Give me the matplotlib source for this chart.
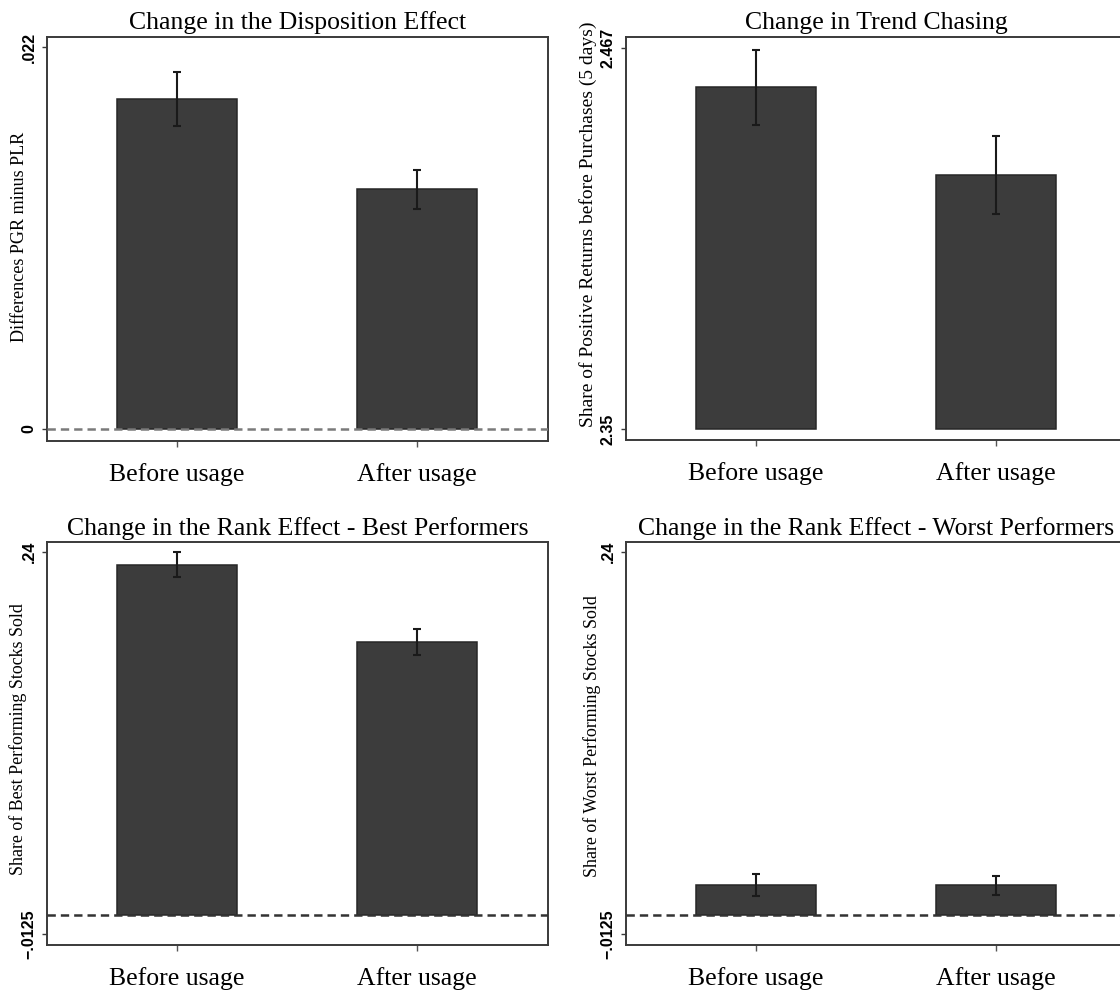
import matplotlib
matplotlib.use("Agg")
import matplotlib.pyplot as plt
import numpy as np

categories = ["Before usage", "After usage"]

disposition_mean = [0.0190, 0.0138]
disposition_err = [0.00155, 0.0011]

trend_mean = [2.455, 2.428]
trend_err = [0.0115, 0.012]

best_mean = [0.2317, 0.1805]
best_err = [0.0083, 0.0083]

worst_mean = [0.0198, 0.0198]
worst_err = [0.0072, 0.0063]

W, H = 1120, 990
BAR_FILL = "#3c3c3c"
BAR_EDGE = "#262626"
SPINE = "#3a3a3a"

plt.rcParams["font.family"] = ["Liberation Serif", "DejaVu Serif"]
plt.rcParams["lines.scale_dashes"] = False


def panel(fig, box, title, ylabel, mean, err, base, ylim, ticks, ticklabels,
          zero_line=None, label_pos=(-0.055, 0.5), ylabel_size=13, title_pad=6):
    left, top, right, bottom = box
    ax = fig.add_axes([left / W, 1 - bottom / H, (right - left) / W, (bottom - top) / H])
    x = np.arange(1, len(categories) + 1)
    heights = np.asarray(mean) - base
    ax.bar(x, heights, bottom=base, width=0.5, color=BAR_FILL, edgecolor=BAR_EDGE,
           linewidth=1.1, zorder=2)
    ax.errorbar(x, mean, yerr=err, fmt="none", ecolor="#1a1a1a", elinewidth=1.5,
                capsize=3, capthick=1.5, zorder=3)
    if zero_line is not None:
        ax.axhline(0, color=zero_line, lw=1.8, dashes=(6, 3.6), zorder=4)
    ax.set_xlim(0.458, 2.546)
    ax.set_ylim(*ylim)
    ax.set_xticks(x)
    ax.set_xticklabels(categories, fontsize=18.5)
    ax.set_yticks(ticks)
    ax.set_yticklabels(ticklabels, rotation=90, va="center",
                       family=["Liberation Sans", "DejaVu Sans"], fontweight="bold", fontsize=11.5)
    ax.tick_params(axis="x", length=4.3, width=1, color="#555555", pad=11.5)
    ax.tick_params(axis="y", length=3.6, width=1, color=SPINE, pad=4)
    for s in ax.spines.values():
        s.set_color(SPINE)
        s.set_linewidth(1.4)
    ax.set_title(title, fontsize=18.5, pad=title_pad)
    ax.set_ylabel(ylabel, fontsize=ylabel_size, va="center")
    ax.yaxis.set_label_coords(*label_pos)
    return ax


def main(save=True):
    fig = plt.figure(figsize=(W / 100, H / 100), dpi=100)
    fig.patch.set_facecolor("white")

    panel(fig, (47, 37, 548, 441), "Change in the Disposition Effect",
          "Differences PGR minus PLR", disposition_mean, disposition_err, 0,
          (-0.00069, 0.02258), [0, 0.022], ["0", ".022"], zero_line="#7a7a7a",
          label_pos=(-0.054, 0.505), ylabel_size=13.1)
    panel(fig, (626, 37, 1127, 440), "Change in Trend Chasing",
          "Share of Positive Returns before Purchases (5 days)", trend_mean, trend_err, 2.35,
          (2.3466, 2.4704), [2.35, 2.467], ["2.35", "2.467"], label_pos=(-0.076, 0.536),
          ylabel_size=14)
    panel(fig, (47, 542, 548, 945), "Change in the Rank Effect - Best Performers",
          "Share of Best Performing Stocks Sold", best_mean, best_err, 0,
          (-0.0198, 0.2466), [-0.0125, 0.24], ["\u2212.0125", ".24"], zero_line="#333333",
          label_pos=(-0.058, 0.511), ylabel_size=12.9, title_pad=5)
    panel(fig, (626, 542, 1127, 945), "Change in the Rank Effect - Worst Performers",
          "Share of Worst Performing Stocks Sold", worst_mean, worst_err, 0,
          (-0.0198, 0.2466), [-0.0125, 0.24], ["\u2212.0125", ".24"], zero_line="#333333",
          label_pos=(-0.068, 0.519), ylabel_size=12.9, title_pad=5)

    if save:
        fig.savefig("out.png", dpi=100)
    return fig


if __name__ == "__main__":
    main(save=True)
